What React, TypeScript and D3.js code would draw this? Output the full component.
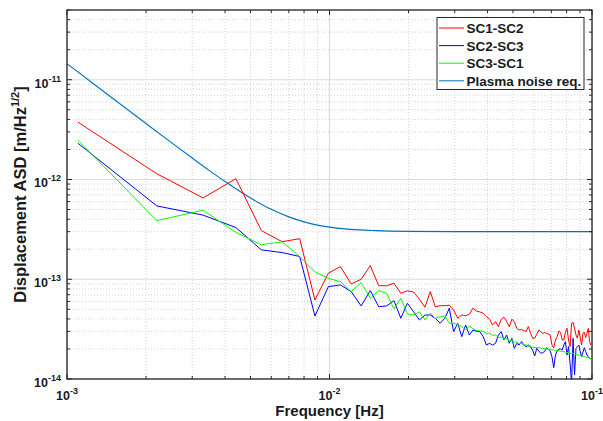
import * as d3 from "d3";

// frequency bins of the ASD (Hz)
const binHz = 0.0011;

const sc12 = [
  3.76e-12, 1.14e-12, 6.53e-13, 1.02e-12, 3.07e-13, 2.38e-13, 2.55e-13, 6.19e-14, 1.15e-13, 1.34e-13,
  8.97e-14, 1.0e-13, 1.37e-13, 8.63e-14, 8.6e-14, 9.12e-14, 7.24e-14, 7.64e-14, 7.46e-14, 6.3e-14,
  5.24e-14, 7.52e-14, 5.3e-14, 5.43e-14, 5.43e-14, 5.5e-14, 4.92e-14, 4.06e-14, 4.38e-14, 4.3e-14,
  4.46e-14, 5.12e-14, 4.8e-14, 4.7e-14, 4.56e-14, 4.22e-14, 3.97e-14, 3.48e-14, 3.76e-14, 3.35e-14,
  3.97e-14, 4.16e-14, 3.76e-14, 3.35e-14, 3.97e-14, 3.76e-14, 3.22e-14, 3.1e-14, 3.15e-14, 3.05e-14,
  3.0e-14, 3.35e-14, 2.9e-14, 2.56e-14, 2.56e-14, 2.81e-14, 3.1e-14, 2.98e-14, 2.87e-14, 2.92e-14,
  2.87e-14, 2.83e-14, 2.76e-14, 2.19e-14, 2.06e-14, 2.46e-14, 2.66e-14, 3.03e-14, 2.94e-14, 2.46e-14,
  2.46e-14, 2.94e-14, 3.22e-14, 2.46e-14, 2.11e-14, 3.62e-14, 3.7e-14, 3.22e-14, 2.76e-14, 2.56e-14,
  3.1e-14, 2.6e-14, 2.19e-14, 2.87e-14, 2.94e-14, 2.6e-14, 2.87e-14, 3.22e-14, 2.37e-14, 2.19e-14,
];

const sc23 = [
  2.31e-12, 5.43e-13, 4.39e-13, 3.3e-13, 1.97e-13, 1.85e-13, 1.69e-13, 4.28e-14, 8.43e-14, 8.77e-14,
  7.52e-14, 5.4e-14, 7.7e-14, 5.3e-14, 5.4e-14, 6.1e-14, 4.06e-14, 5.74e-14, 4.73e-14, 3.91e-14,
  4.38e-14, 4.38e-14, 4.06e-14, 3.62e-14, 4.06e-14, 5.12e-14, 2.98e-14, 3.62e-14, 2.66e-14, 3.48e-14,
  2.76e-14, 3.1e-14, 3.0e-14, 2.98e-14, 2.66e-14, 2.19e-14, 2.28e-14, 2.19e-14, 2.28e-14, 2.76e-14,
  2.98e-14, 2.46e-14, 2.76e-14, 2.28e-14, 2.56e-14, 2.03e-14, 2.28e-14, 2.19e-14, 2.37e-14, 2.19e-14,
  2.1e-14, 2.19e-14, 2.1e-14, 1.95e-14, 1.7e-14, 2.03e-14, 1.91e-14, 1.81e-14, 1.84e-14, 1.88e-14,
  2.06e-14, 2.0e-14, 1.91e-14, 1.67e-14, 1.3e-14, 1.74e-14, 1.91e-14, 2.0e-14, 2.0e-14, 1.95e-14,
  2.19e-14, 2.37e-14, 1.74e-14, 2.11e-14, 1.44e-14, 0.9e-14, 2.56e-14, 1.1e-14, 2.03e-14, 2.11e-14,
  2.19e-14, 1.88e-14, 1.67e-14, 1.86e-14, 2.06e-14, 1.88e-14, 1.74e-14, 1.67e-14, 1.61e-14, 1.6e-14,
];

const sc31 = [
  2.48e-12, 3.87e-13, 4.92e-13, 2.95e-13, 2.22e-13, 2.37e-13, 1.69e-13, 1.19e-13, 1.02e-13, 9.46e-14,
  7.52e-14, 9.25e-14, 6.45e-14, 7.7e-14, 7.24e-14, 5.04e-14, 6.45e-14, 4.49e-14, 4.38e-14, 4.7e-14,
  3.91e-14, 4.56e-14, 4.06e-14, 4.2e-14, 4.3e-14, 3.62e-14, 3.62e-14, 3.5e-14, 3.35e-14, 3.1e-14,
  3.4e-14, 3.2e-14, 3.05e-14, 3.04e-14, 3.0e-14, 2.85e-14, 2.88e-14, 2.74e-14, 2.76e-14, 2.62e-14,
  2.63e-14, 2.52e-14, 2.55e-14, 2.42e-14, 2.44e-14, 2.34e-14, 2.36e-14, 2.26e-14, 2.27e-14, 2.2e-14,
  2.2e-14, 2.12e-14, 2.14e-14, 2.06e-14, 2.08e-14, 2.06e-14, 2.07e-14, 2.03e-14, 2.04e-14, 2.0e-14,
  2.01e-14, 1.98e-14, 1.99e-14, 1.95e-14, 1.97e-14, 1.93e-14, 1.92e-14, 1.93e-14, 1.89e-14, 1.88e-14,
  1.89e-14, 1.85e-14, 1.84e-14, 1.85e-14, 1.81e-14, 1.8e-14, 1.81e-14, 1.77e-14, 1.76e-14, 1.75e-14,
  1.73e-14, 1.74e-14, 1.7e-14, 1.69e-14, 1.69e-14, 1.66e-14, 1.65e-14, 1.64e-14, 1.61e-14, 1.6e-14,
];

// requirement curve, read at a few frequencies
const plasmaF = [1e-3, 1.25e-3, 1.5e-3, 2e-3, 2.5e-3, 3e-3, 3.5e-3, 4e-3, 5e-3, 6e-3, 7e-3, 8e-3, 9e-3, 1e-2, 1.2e-2, 1.5e-2, 2e-2, 3e-2, 5e-2, 1e-1];
const plasmaV = [1.45e-11, 9.28e-12, 6.45e-12, 3.64e-12, 2.34e-12, 1.64e-12, 1.22e-12, 9.54e-13, 6.53e-13, 5.02e-13, 4.22e-13, 3.76e-13, 3.49e-13, 3.33e-13, 3.16e-13, 3.07e-13, 3.02e-13, 3.0e-13, 3.0e-13, 3.0e-13];

const seriesNames = ["SC1-SC2", "SC2-SC3", "SC3-SC1", "Plasma noise req."];
const seriesColors = ["#ff0000", "#0000ff", "#00ff00", "#0072bd"];

const xDecades = [-3, -2, -1];
const yDecades = [-14, -13, -12, -11];

const W = 603;
const H = 421;
const margin = { top: 10, right: 11, bottom: 42, left: 67 };
const font = "'Liberation Sans', Arial, Helvetica, sans-serif";
const axisColor = "#262626";

export default function App() {
  const x0 = margin.left;
  const x1 = W - margin.right;
  const y0 = margin.top;
  const y1 = H - margin.bottom;

  const x = d3.scaleLog().domain([1e-3, 1e-1]).range([x0, x1]);
  const y = d3.scaleLog().domain([1e-14, 5e-11]).range([y1, y0]);

  const freq = sc12.map((_, i) => (i + 1) * binHz);

  const line = d3
    .line<[number, number]>()
    .x((d) => x(d[0]))
    .y((d) => y(d[1]));

  const smooth = d3
    .line<[number, number]>()
    .x((d) => x(d[0]))
    .y((d) => y(d[1]))
    .curve(d3.curveMonotoneX);

  const data = [sc12, sc23, sc31].map((s) => s.map((v, i) => [freq[i], v] as [number, number]));
  const plasma = plasmaF.map((f, i) => [f, plasmaV[i]] as [number, number]);

  // minor tick values
  const xMinor: number[] = [];
  xDecades.slice(0, -1).forEach((e) => {
    for (let m = 2; m <= 9; m++) xMinor.push(m * Math.pow(10, e));
  });
  const yMinor: number[] = [];
  yDecades.forEach((e) => {
    for (let m = 2; m <= 9; m++) {
      const v = m * Math.pow(10, e);
      if (v <= 5e-11) yMinor.push(v);
    }
  });

  const majorLen = 5;
  const minorLen = 3;

  return (
    <svg
      width={W}
      height={H}
      style={{ position: "absolute", left: 0, top: 0, background: "#fff" }}
      fontFamily={font}
    >
      <defs>
        <clipPath id="plot-clip">
          <rect x={x0} y={y0} width={x1 - x0} height={y1 - y0} />
        </clipPath>
      </defs>

      {/* grid */}
      <g>
        {xMinor.map((v, i) => (
          <line key={"xm" + i} x1={x(v)} x2={x(v)} y1={y0} y2={y1} stroke="#c8c8c8" strokeWidth={0.8} strokeDasharray="1,2" />
        ))}
        {yMinor.map((v, i) => (
          <line key={"ym" + i} x1={x0} x2={x1} y1={y(v)} y2={y(v)} stroke="#c8c8c8" strokeWidth={0.8} strokeDasharray="1,2" />
        ))}
        {xDecades.map((e) => (
          <line key={"xg" + e} x1={x(Math.pow(10, e))} x2={x(Math.pow(10, e))} y1={y0} y2={y1} stroke="#dcdcdc" strokeWidth={1.2} />
        ))}
        {yDecades.map((e) => (
          <line key={"yg" + e} x1={x0} x2={x1} y1={y(Math.pow(10, e))} y2={y(Math.pow(10, e))} stroke="#dcdcdc" strokeWidth={1.2} />
        ))}
      </g>

      {/* data */}
      <g clipPath="url(#plot-clip)" fill="none">
        <path d={smooth(plasma) || ""} stroke={seriesColors[3]} strokeWidth={1.1} />
        <path d={line(data[0]) || ""} stroke={seriesColors[0]} strokeWidth={1} />
        <path d={line(data[1]) || ""} stroke={seriesColors[1]} strokeWidth={1} />
        <path d={line(data[2]) || ""} stroke={seriesColors[2]} strokeWidth={1} />
      </g>

      {/* axes box and ticks */}
      <g stroke={axisColor} strokeWidth={1}>
        <rect x={x0} y={y0} width={x1 - x0} height={y1 - y0} fill="none" strokeWidth={1.3} />
        {xDecades.map((e) => {
          const px = x(Math.pow(10, e));
          return (
            <g key={"xt" + e}>
              <line x1={px} x2={px} y1={y1} y2={y1 - majorLen} />
              <line x1={px} x2={px} y1={y0} y2={y0 + majorLen} />
            </g>
          );
        })}
        {xMinor.map((v, i) => (
          <g key={"xmt" + i}>
            <line x1={x(v)} x2={x(v)} y1={y1} y2={y1 - minorLen} />
            <line x1={x(v)} x2={x(v)} y1={y0} y2={y0 + minorLen} />
          </g>
        ))}
        {yDecades.map((e) => {
          const py = y(Math.pow(10, e));
          return (
            <g key={"yt" + e}>
              <line x1={x0} x2={x0 + majorLen} y1={py} y2={py} />
              <line x1={x1} x2={x1 - majorLen} y1={py} y2={py} />
            </g>
          );
        })}
        {yMinor.map((v, i) => (
          <g key={"ymt" + i}>
            <line x1={x0} x2={x0 + minorLen} y1={y(v)} y2={y(v)} />
            <line x1={x1} x2={x1 - minorLen} y1={y(v)} y2={y(v)} />
          </g>
        ))}
      </g>

      {/* tick labels */}
      <g fill="#1a1a1a" fontWeight="bold" fontSize={12.5}>
        {xDecades.map((e) => (
          <text key={"xl" + e} x={x(Math.pow(10, e))} y={y1 + 21} textAnchor="middle">
            <tspan>10</tspan>
            <tspan dy={-6} fontSize={9}>{String(e)}</tspan>
          </text>
        ))}
        {yDecades.map((e) => (
          <text key={"yl" + e} x={x0 - 6} y={y(Math.pow(10, e)) + 8} textAnchor="end">
            <tspan>10</tspan>
            <tspan dy={-6} fontSize={9}>{String(e)}</tspan>
          </text>
        ))}
      </g>

      {/* axis labels */}
      <g fill="#1a1a1a" fontWeight="bold">
        <text x={(x0 + x1) / 2} y={H - 5} textAnchor="middle" fontSize={15}>
          Frequency [Hz]
        </text>
        <text transform={`translate(${26},${(y0 + y1) / 2}) rotate(-90)`} textAnchor="middle" fontSize={16.5}>
          <tspan>Displacement ASD [m/Hz</tspan>
          <tspan dy={-7} fontSize={11}>1/2</tspan>
          <tspan dy={7}>]</tspan>
        </text>
      </g>

      {/* legend */}
      <g>
        <rect x={437} y={17.5} width={147} height={72} fill="#fff" stroke={axisColor} strokeWidth={1} />
        {seriesNames.map((name, i) => {
          const cy = 28 + i * 17.6;
          return (
            <g key={name}>
              <line x1={439} x2={464} y1={cy} y2={cy} stroke={seriesColors[i]} strokeWidth={1} />
              <text x={466.5} y={cy + 5} fontSize={13.5} fontWeight="bold" fill="#1a1a1a">
                {name}
              </text>
            </g>
          );
        })}
      </g>
    </svg>
  );
}
